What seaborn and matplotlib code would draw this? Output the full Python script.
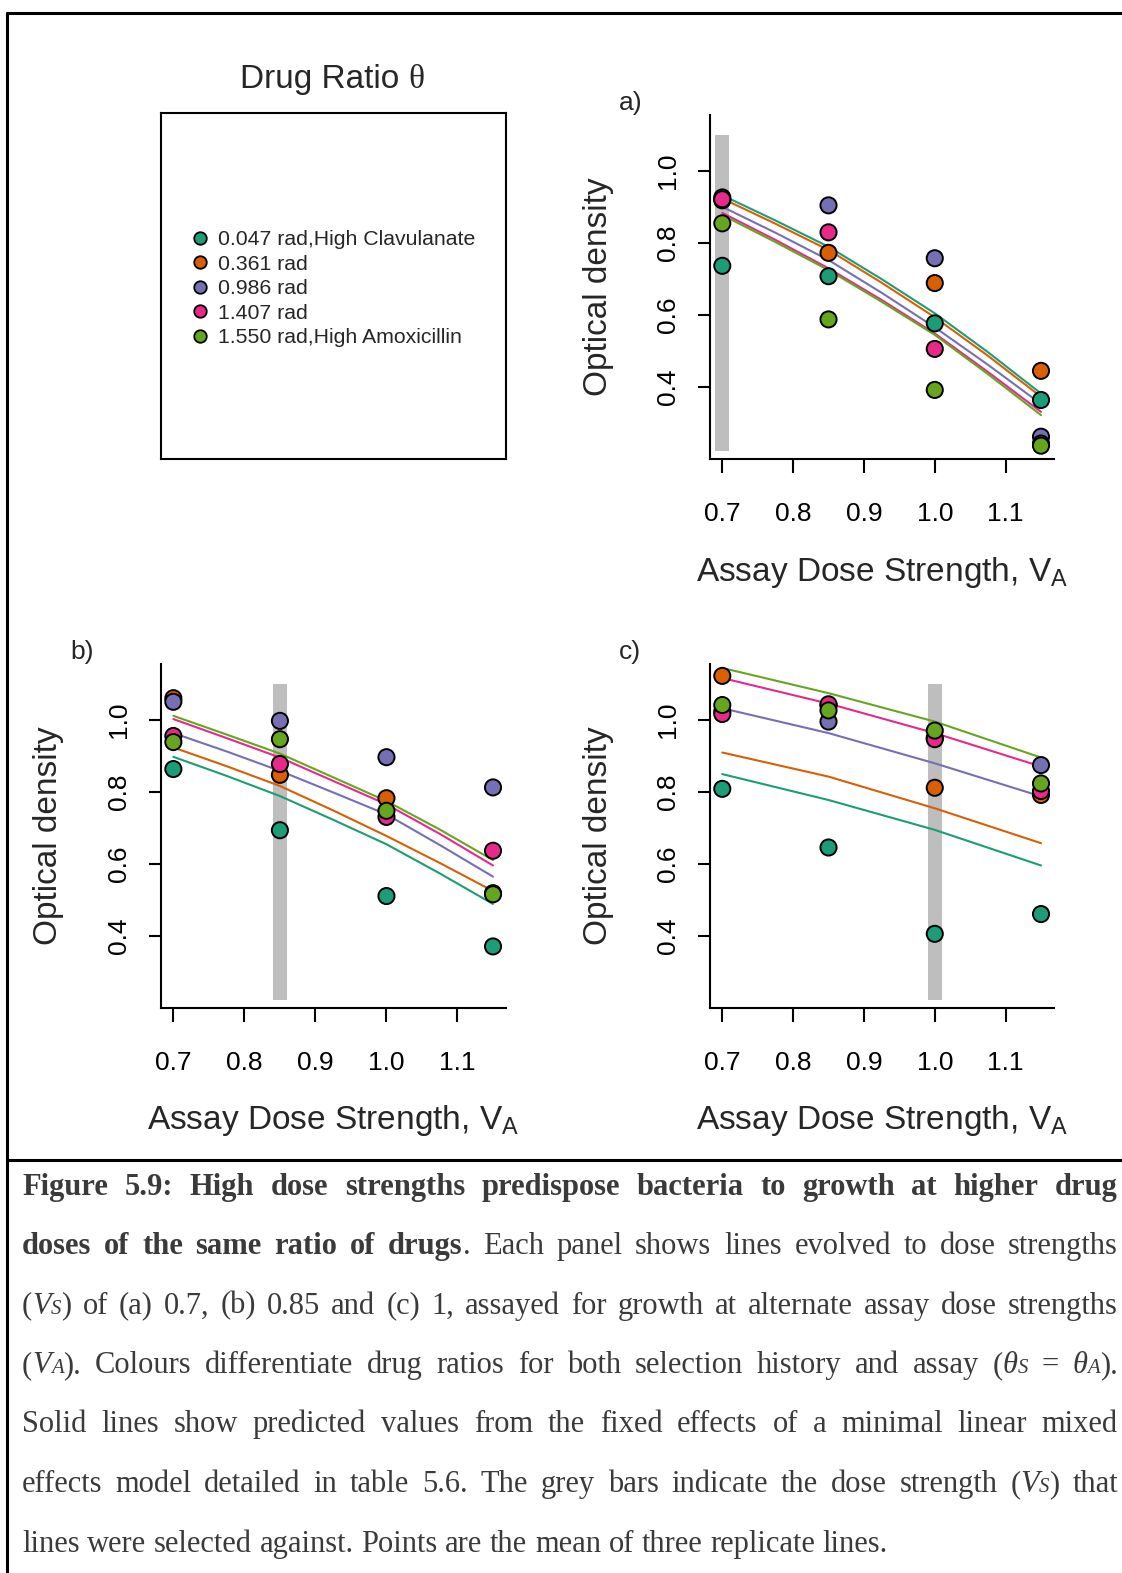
import numpy as np
import pandas as pd
import matplotlib
matplotlib.use("Agg")
import matplotlib.pyplot as plt
import seaborn as sns
from matplotlib.lines import Line2D

# ---------------- data ----------------
assay_doses = [0.70, 0.85, 1.00, 1.15]
ratio_labels = ["0.047 rad,High Clavulanate", "0.361 rad", "0.986 rad",
                "1.407 rad", "1.550 rad,High Amoxicillin"]
ratio_colors = ["#1B9E77", "#D95F02", "#7570B3", "#E7298A", "#66A61E"]
panel_names = ["a)", "b)", "c)"]
selection_doses = [0.70, 0.85, 1.00]
x_ticks = [0.7, 0.8, 0.9, 1.0, 1.1]
y_ticks = [0.4, 0.6, 0.8, 1.0]

# observed means (rows follow ratio_labels, columns follow assay_doses)
obs_a = [[0.736, 0.707, 0.576, 0.363],
         [0.926, 0.772, 0.688, 0.444],
         [0.918, 0.904, 0.757, 0.261],
         [0.921, 0.829, 0.505, 0.242],
         [0.854, 0.587, 0.391, 0.236]]
obs_b = [[0.863, 0.693, 0.510, 0.370],
         [1.060, 0.847, 0.782, 0.518],
         [1.050, 0.997, 0.896, 0.812],
         [0.955, 0.877, 0.730, 0.636],
         [0.938, 0.946, 0.747, 0.515]]
obs_c = [[0.808, 0.645, 0.405, 0.460],
         [1.122, 1.040, 0.811, 0.791],
         [1.023, 0.995, 0.950, 0.874],
         [1.016, 1.043, 0.946, 0.802],
         [1.041, 1.026, 0.970, 0.823]]

# model predictions (fixed effects)
fit_x_ab = [0.70, 0.775, 0.85, 0.925, 1.00, 1.075, 1.15]
fit_a = [[0.932, 0.862, 0.789, 0.699, 0.604, 0.496, 0.381],
         [0.923, 0.853, 0.780, 0.689, 0.593, 0.486, 0.372],
         [0.900, 0.828, 0.752, 0.661, 0.565, 0.461, 0.352],
         [0.883, 0.808, 0.729, 0.641, 0.548, 0.441, 0.330],
         [0.877, 0.802, 0.724, 0.636, 0.544, 0.435, 0.321]]
fit_b = [[0.897, 0.844, 0.788, 0.722, 0.654, 0.573, 0.488],
         [0.923, 0.871, 0.816, 0.748, 0.677, 0.602, 0.524],
         [0.963, 0.912, 0.858, 0.798, 0.737, 0.652, 0.564],
         [1.002, 0.949, 0.895, 0.830, 0.765, 0.683, 0.595],
         [1.011, 0.959, 0.906, 0.840, 0.774, 0.695, 0.610]]
fit_x_c = [0.70, 0.85, 1.00, 1.15]
fit_c = [[0.849, 0.777, 0.694, 0.595],
         [0.909, 0.842, 0.754, 0.657],
         [1.032, 0.963, 0.879, 0.787],
         [1.116, 1.045, 0.963, 0.870],
         [1.144, 1.074, 0.995, 0.895]]

bar_low, bar_high, bar_width = 0.22, 1.10, 0.02

caption_lines = [
    ("b", "Figure 5.9: High dose strengths predispose bacteria to growth at higher drug", True),
    ("b", "doses of the same ratio of b~drugs|n~. n~Each n~panel n~shows n~lines n~evolved n~to n~dose n~strengths", True),
    ("n", "n~(|i~V|s~S|n~) of (a) 0.7, (b) 0.85 and (c) 1, assayed for growth at alternate assay dose strengths", True),
    ("n", "n~(|i~V|s~A|n~). Colours differentiate drug ratios for both selection history and assay n~(|i~θ|s~S = i~θ|s~A|n~).", True),
    ("n", "Solid lines show predicted values from the fixed effects of a minimal linear mixed", True),
    ("n", "effects model detailed in table 5.6. The grey bars indicate the dose strength n~(|i~V|s~S|n~) that", True),
    ("n", "lines were selected against. Points are the mean of three replicate lines.", False),
]

# ---------------- style ----------------
sns.set_style("ticks")
plt.rcParams["font.family"] = ["Liberation Sans", "DejaVu Sans"]
plt.rcParams["mathtext.fontset"] = "custom"
plt.rcParams["mathtext.rm"] = "Liberation Sans"

W, H = 1122, 1573
SC = 1122 / 1118.0
fig = plt.figure(figsize=(W / 100, H / 100), dpi=100)
fig.patch.set_facecolor("white")


def fx(x):
    return x * SC / W


def fy(y):
    return 1 - y * SC / H


def rect(l, r, t, b):
    return [fx(l), fy(b), fx(r) - fx(l), fy(t) - fy(b)]


def long_df(mat, xs):
    rows = []
    for lab, vals in zip(ratio_labels, mat):
        for d, v in zip(xs, vals):
            rows.append({"dose": d, "od": v, "ratio": lab})
    return pd.DataFrame(rows)


TICK_FS = 19
LAB_FS = 24
LW = 1.5

panels = [
    (rect(707, 1050, 115, 457), obs_a, fit_a, fit_x_ab, selection_doses[0], panel_names[0], (628, 103)),
    (rect(160, 504, 662, 1004), obs_b, fit_b, fit_x_ab, selection_doses[1], panel_names[1], (82, 650)),
    (rect(707, 1050, 662, 1004), obs_c, fit_c, fit_x_c, selection_doses[2], panel_names[2], (628, 650)),
]

for r, obs, fit, fxs, vs, name, lpos in panels:
    ax = fig.add_axes(r)
    ax.set_facecolor("white")
    ax.bar([vs], [bar_high - bar_low], bottom=bar_low, width=bar_width,
           color="#BEBEBE", zorder=0, linewidth=0)
    sns.lineplot(data=long_df(fit, fxs), x="dose", y="od", hue="ratio",
                 hue_order=ratio_labels, palette=ratio_colors, estimator=None,
                 linewidth=1.5, legend=False, ax=ax, zorder=2)
    sns.scatterplot(data=long_df(obs, assay_doses), x="dose", y="od", hue="ratio",
                    hue_order=ratio_labels, palette=ratio_colors, s=135,
                    edgecolor="black", linewidth=1.4, legend=False, ax=ax,
                    zorder=3)
    ax.set_xlim(0.682, 1.168)
    ax.set_ylim(0.2, 1.154)
    ax.set_xticks(x_ticks)
    ax.set_xticklabels([f"{t:.1f}" for t in x_ticks])
    ax.set_yticks(y_ticks)
    ax.set_yticklabels([f"{t:.1f}" for t in y_ticks], rotation=90, va="center")
    for sp in ["top", "right"]:
        ax.spines[sp].set_visible(False)
    for sp in ["left", "bottom"]:
        ax.spines[sp].set_linewidth(LW)
        ax.spines[sp].set_color("black")
    ax.tick_params(axis="x", length=10, width=LW, pad=21, labelsize=TICK_FS,
                   colors="black")
    ax.tick_params(axis="y", length=9, width=LW, pad=12, labelsize=TICK_FS,
                   colors="black")
    ax.set_xlabel(r"Assay Dose Strength, V$_\mathregular{A}$", fontsize=LAB_FS,
                  va="center")
    ax.xaxis.set_label_coords(0.5, (457 - 570) / 342.0)
    ax.set_ylabel("Optical density", fontsize=LAB_FS, va="center")
    ax.yaxis.set_label_coords((596 - 707) / 343.0, 0.5)
    fig.text(fx(lpos[0]), fy(lpos[1]), name, fontsize=TICK_FS, ha="center",
             va="center")

# legend panel
axl = fig.add_axes(rect(160, 504, 113, 457))
axl.set_xticks([])
axl.set_yticks([])
for sp in axl.spines.values():
    sp.set_visible(True)
    sp.set_linewidth(LW)
    sp.set_color("black")
handles = [Line2D([0], [0], marker="o", linestyle="none", markersize=9,
                  markerfacecolor=c, markeredgecolor="black",
                  markeredgewidth=1.3) for c in ratio_colors]
LEG_FS = 15.3
em = LEG_FS * 100 / 72.0
leg = fig.legend(handles, ratio_labels, loc="upper left",
                 bbox_to_anchor=(fx(199) - 0.5 * em / W,
                                 fy(237) + (0.6 * em - 5 * SC) / H),
                 frameon=False, fontsize=LEG_FS, handlelength=1.0,
                 handletextpad=0.35, labelspacing=0.26, borderpad=0,
                 borderaxespad=0)

renderer = fig.canvas.get_renderer()


def text_width(s, **kw):
    t = fig.text(0, 0, s, **kw)
    w = t.get_window_extent(renderer).width
    t.remove()
    return w


# title "Drug Ratio θ"
tkw = dict(fontsize=24, family=["Liberation Sans"])
th_kw = dict(fontsize=24, family=["Liberation Serif"])
w1 = text_width("Drug Ratio", **tkw)
wsp = text_width("a a", **tkw) - text_width("aa", **tkw)
w2 = text_width("θ", **th_kw)
tot = w1 + wsp + w2
x0 = 331 * SC - tot / 2
fig.text(x0 / W, fy(88), "Drug Ratio", ha="left", va="baseline", **tkw)
fig.text((x0 + w1 + wsp) / W, fy(88), "θ", ha="left", va="baseline", **th_kw)

# frame lines
FR_LW = 2.2
fig.add_artist(Line2D([fx(7), 1.0], [fy(13), fy(13)], color="black", lw=FR_LW))
fig.add_artist(Line2D([fx(7), fx(7)], [fy(13), 0.0], color="black", lw=FR_LW))
fig.add_artist(Line2D([fx(7), 1.0], [fy(1156), fy(1156)], color="black", lw=FR_LW))

# caption (justified serif text)
CAP_FS = 22
CAP_COL = "#3a3a3a"
style_kw = {
    "n": dict(fontsize=CAP_FS, family=["Liberation Serif"], color=CAP_COL),
    "b": dict(fontsize=CAP_FS, family=["Liberation Serif"], color=CAP_COL, weight="bold"),
    "i": dict(fontsize=CAP_FS, family=["Liberation Serif"], color=CAP_COL, style="italic"),
    "s": dict(fontsize=CAP_FS * 0.68, family=["Liberation Serif"], color=CAP_COL, style="italic"),
}
baselines = [1191, 1250, 1309, 1368, 1427, 1487, 1546]
cap_left, cap_right = 22 * SC, 1114 * SC


def parse_word(tok, default):
    runs = []
    for part in tok.split("|"):
        if "~" in part:
            st, txt = part.split("~", 1)
        else:
            st, txt = default, part
        runs.append((st, txt))
    return runs


space_w = text_width("a a", **style_kw["n"]) - text_width("aa", **style_kw["n"])
for (default, line, justify), base in zip(caption_lines, baselines):
    words = [parse_word(tok, default) for tok in line.split(" ")]
    widths = []
    for runs in words:
        widths.append([text_width(txt, **style_kw[st]) for st, txt in runs])
    total = sum(sum(w) for w in widths)
    gap = (cap_right - cap_left - total) / (len(words) - 1) if justify else space_w
    x = cap_left
    yb = fy(base)
    for runs, ws in zip(words, widths):
        for (st, txt), w in zip(runs, ws):
            fig.text(x / W, yb, txt, ha="left", va="baseline", **style_kw[st])
            x += w
        x += gap

fig.savefig("out.png", dpi=100, facecolor="white")
